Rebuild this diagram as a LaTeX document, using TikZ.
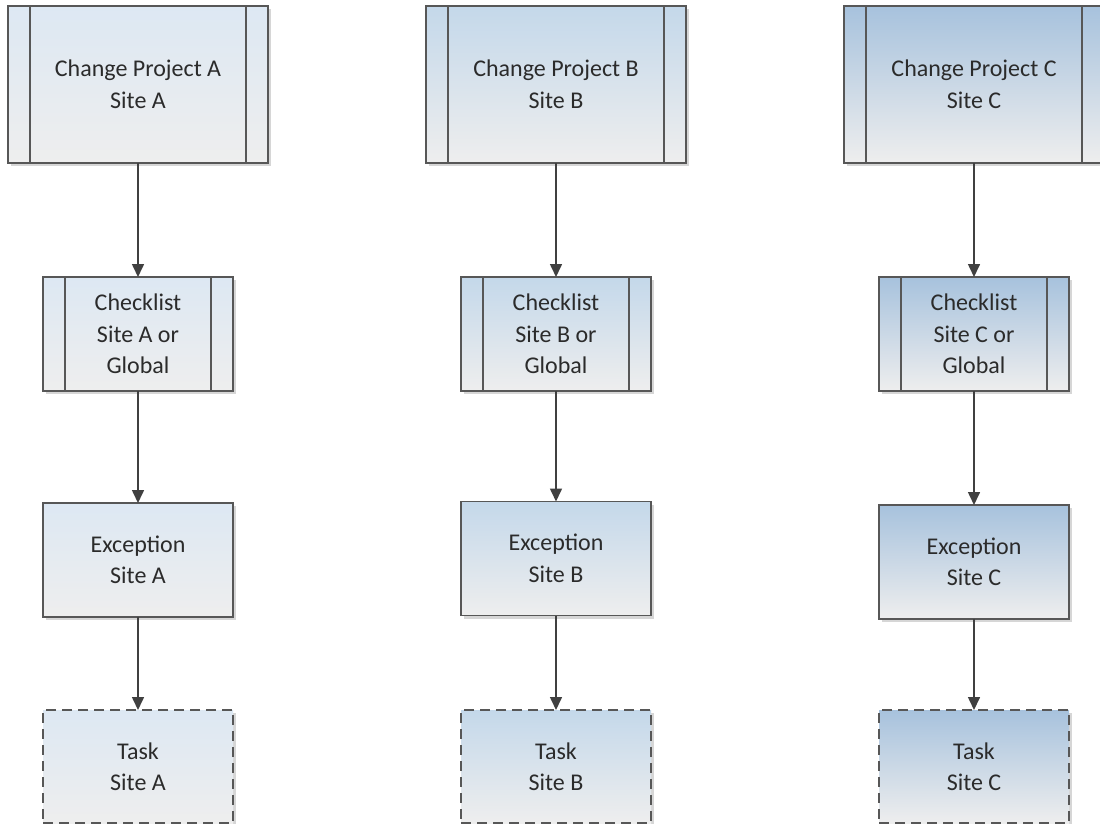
\documentclass[tikz,border=0pt]{standalone}
\usepackage{fontspec}
\setmainfont{Carlito}
\usetikzlibrary{arrows.meta,shadows}
\definecolor{edgec}{HTML}{575757}
\definecolor{arrowc}{HTML}{404040}
\definecolor{txtc}{HTML}{2B2B2B}
\definecolor{topA}{HTML}{DDE8F3}
\definecolor{topB}{HTML}{C4D8EA}
\definecolor{topC}{HTML}{A7C2DD}
\definecolor{botc}{HTML}{EEEEEE}
\tikzset{
  box/.style={rectangle, draw=edgec, line width=1.8pt, outer sep=0pt,
    text=txtc, align=center, font=\fontsize{24}{31.5}\selectfont,
    drop shadow={shadow xshift=3pt, shadow yshift=-3pt, fill=black!35, opacity=0.45}},
  colA/.style={top color=topA, bottom color=botc},
  colB/.style={top color=topB, bottom color=botc},
  colC/.style={top color=topC, bottom color=botc},
  projbox/.style={box, minimum width=260pt, minimum height=157pt},
  checkbox/.style={box, minimum width=190pt, minimum height=114pt},
  excbox/.style={box, minimum width=190pt, minimum height=114pt},
  taskbox/.style={box, minimum width=190pt, minimum height=113pt, dash pattern=on 10pt off 6pt},
  inner/.style={draw=edgec, line width=1.8pt},
  arr/.style={draw=arrowc, line width=1.6pt, -{Triangle[length=13pt,width=12pt]}}
}
\begin{document}
\begin{tikzpicture}[x=1pt,y=-1pt]
\useasboundingbox (0,0) rectangle (1100,824);
\fill[white] (0,0) rectangle (1100,824);
\clip (0,0) rectangle (1100,824);

% Column A
\node[projbox, colA] (pA) at (138,84.5) {Change Project A\\Site A};
\node[checkbox, colA] (cA) at (138,334) {Checklist\\Site A or\\Global};
\node[excbox, colA] (eA) at (138,560) {Exception\\Site A};
\node[taskbox, colA] (tA) at (138,766.5) {Task\\Site A};

% Column B
\node[projbox, colB] (pB) at (556,84.5) {Change Project B\\Site B};
\node[checkbox, colB] (cB) at (556,334) {Checklist\\Site B or\\Global};
\node[excbox, colB] (eB) at (556,558.5) {Exception\\Site B};
\node[taskbox, colB] (tB) at (556,766.5) {Task\\Site B};

% Column C
\node[projbox, colC] (pC) at (974,84.5) {Change Project C\\Site C};
\node[checkbox, colC] (cC) at (974,334) {Checklist\\Site C or\\Global};
\node[excbox, colC] (eC) at (974,562) {Exception\\Site C};
\node[taskbox, colC] (tC) at (974,766.5) {Task\\Site C};

% inner lines of subprocess boxes
\foreach \n in {pA,pB,pC,cA,cB,cC}{
  \draw[inner] ([xshift=22pt]\n.north west) -- ([xshift=22pt]\n.south west);
  \draw[inner] ([xshift=-22pt]\n.north east) -- ([xshift=-22pt]\n.south east);
}

% connectors
\foreach \c in {A,B,C}{
  \draw[arr] (p\c) -- (c\c);
  \draw[arr] (c\c) -- (e\c);
  \draw[arr] (e\c) -- (t\c);
}
\end{tikzpicture}
\end{document}
